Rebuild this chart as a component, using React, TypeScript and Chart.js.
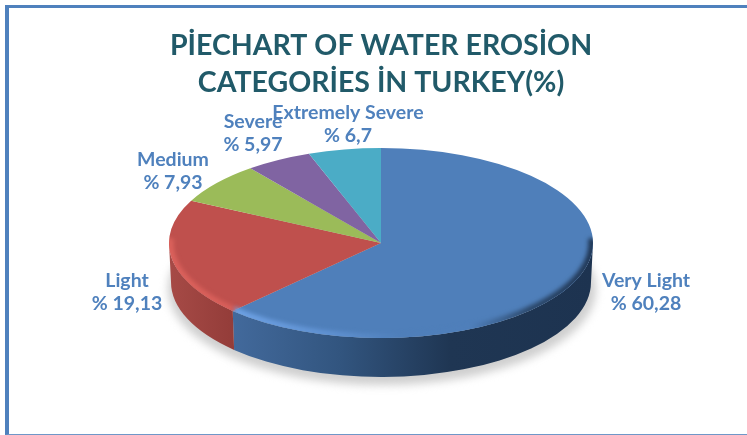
import React, { useEffect, useRef } from "react";
import { Chart, registerables } from "chart.js";

Chart.register(...registerables);

const categories = ["Very Light", "Light", "Medium", "Severe", "Extremely Severe"];
const shares = [60.28, 19.13, 7.93, 5.97, 6.7];
const sliceColors = ["#4f7fba", "#bf504d", "#9bbb59", "#8064a2", "#4bacc6"];
const titleLines = ["PİECHART OF WATER EROSİON", "CATEGORİES İN TURKEY(%)"];
const labelCenters = [
  [646, 281],
  [127, 281],
  [173, 160],
  [253, 122],
  [348, 113],
];

const CX = 381;
const CY = 243;
const RX = 212;
const RY = 95;
const DEPTH = 39;
const TILT = 0.82; // perspective of the tilted disc: the far side looks compressed

const warp = (canvasAngle: number) => {
  const t = canvasAngle + Math.PI / 2;
  return 2 * Math.atan2(TILT * Math.sin(t / 2), Math.cos(t / 2)) - Math.PI / 2;
};

const hGradient = (ctx: CanvasRenderingContext2D, stops: [number, string][]) => {
  const xs = stops.map((s) => s[0]);
  const x0 = xs[0];
  const x1 = xs[xs.length - 1];
  const g = ctx.createLinearGradient(x0, 0, x1, 0);
  stops.forEach(([x, c]) => g.addColorStop((x - x0) / (x1 - x0), c));
  return g;
};

const wallStops: [number, string][][] = [
  [[235, "#42699b"], [340, "#32557f"], [450, "#1f3653"], [593, "#1d3350"]],
  [[170, "#a64a46"], [235, "#933c39"]],
  [[170, "#7d9a48"], [235, "#7d9a48"]],
  [[170, "#674f85"], [235, "#674f85"]],
  [[170, "#3d8ca2"], [235, "#3d8ca2"]],
];
const rimStops: [number, string][][] = [
  [[235, "#6fa3e6"], [330, "#6092d2"], [400, "#4f7fba"], [470, "#4f7fba"], [530, "#2b4769"], [593, "#1f3552"]],
  [[170, "#dc625c"], [235, "#d85f5a"]],
];

const pie3d = {
  id: "pie3d",
  afterDatasetsUpdate(chart: any) {
    chart.getDatasetMeta(0).data.forEach((arc: any) => {
      arc.startAngle = warp(arc.startAngle);
      arc.endAngle = warp(arc.endAngle);
      arc.circumference = arc.endAngle - arc.startAngle;
    });
  },
  beforeDatasetsDraw(chart: any) {
    const ctx: CanvasRenderingContext2D = chart.ctx;
    const arcs = chart.getDatasetMeta(0).data;

    ctx.save();
    ctx.filter = "blur(4px)";
    ctx.fillStyle = "#cfcfcf";
    ctx.beginPath();
    ctx.ellipse(CX + 1, CY + DEPTH + 7, RX + 2, RY + 1, 0, 0, Math.PI * 2);
    ctx.fill();
    ctx.restore();

    arcs.forEach((arc: any, i: number) => {
      const a = Math.max(arc.startAngle, 0);
      const b = Math.min(arc.endAngle, Math.PI);
      if (b <= a) return;
      ctx.beginPath();
      ctx.ellipse(CX, CY, RX, RY, 0, a, b);
      ctx.ellipse(CX, CY + DEPTH, RX - 2, RY, 0, b, a, true);
      ctx.closePath();
      ctx.fillStyle = hGradient(ctx, wallStops[i]);
      ctx.fill();
    });

    const first = arcs[0];
    ctx.save();
    ctx.translate(CX, CY);
    ctx.scale(RX / first.outerRadius, RY / first.outerRadius);
    ctx.translate(-first.x, -first.y);
  },
  afterDatasetsDraw(chart: any) {
    const ctx: CanvasRenderingContext2D = chart.ctx;
    const arcs = chart.getDatasetMeta(0).data;
    ctx.restore();

    ctx.save();
    ctx.beginPath();
    ctx.ellipse(CX, CY, RX, RY, 0, 0, Math.PI * 2);
    ctx.clip();
    ctx.filter = "blur(2px)";
    rimStops.forEach((stops, i) => {
      const a = Math.max(arcs[i].startAngle, -0.05);
      const b = Math.min(arcs[i].endAngle, Math.PI + 0.05);
      ctx.beginPath();
      ctx.ellipse(CX, CY, RX - 1, RY - 1, 0, a, b);
      ctx.strokeStyle = hGradient(ctx, stops);
      ctx.lineWidth = 7;
      ctx.stroke();
    });
    ctx.restore();

    ctx.save();
    ctx.fillStyle = "#4f81bd";
    ctx.font = "bold 19.5px Lato";
    ctx.textAlign = "center";
    ctx.textBaseline = "middle";
    categories.forEach((name, i) => {
      const [x, y] = labelCenters[i];
      ctx.fillText(name, x, y);
      ctx.fillText("% " + String(shares[i]).replace(".", ","), x, y + 23);
    });
    ctx.restore();
  },
};

export default function App() {
  const ref = useRef<HTMLCanvasElement>(null);

  useEffect(() => {
    document.body.style.margin = "0";
    const chart = new Chart(ref.current!, {
      type: "pie",
      data: {
        labels: categories,
        datasets: [
          {
            data: shares,
            backgroundColor: sliceColors,
            borderWidth: 0,
            clip: false,
          } as any,
        ],
      },
      options: {
        responsive: false,
        animation: false,
        radius: RX,
        layout: { padding: { left: 15, top: 27 } },
        plugins: {
          legend: { display: false },
          tooltip: { enabled: false },
          title: {
            display: true,
            text: titleLines,
            color: "#215a69",
            font: { family: "Lato", weight: "bold", size: 28.5, lineHeight: 1.3 },
            padding: 0,
          },
        },
      } as any,
      plugins: [pie3d],
    });
    return () => chart.destroy();
  }, []);

  return (
    <div style={{ position: "absolute", left: 0, top: 0, width: 747, height: 435, overflow: "hidden", background: "#fff" }}>
      <div
        style={{
          position: "absolute",
          left: 5,
          top: 5,
          right: 0,
          bottom: 0,
          borderLeft: "4px solid #4f81bd",
          borderTop: "3px solid #4f81bd",
          borderBottom: "1px solid #6f97c8",
        }}
      />
      <canvas ref={ref} width={747} height={435} style={{ position: "absolute", left: 0, top: 0 }} />
    </div>
  );
}
